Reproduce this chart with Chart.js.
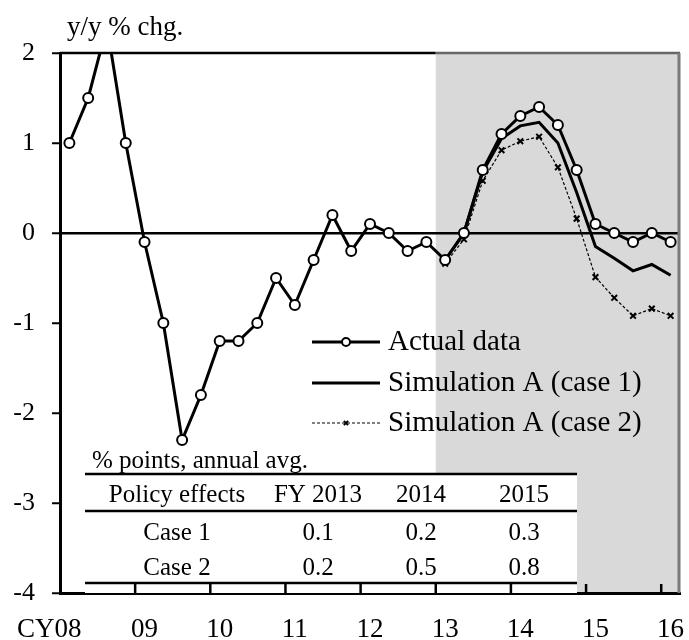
<!DOCTYPE html>
<html>
<head>
<meta charset="utf-8">
<script src="https://cdn.jsdelivr.net/npm/chart.js@4.4.1/dist/chart.umd.min.js"></script>
<style>
  html, body { margin: 0; padding: 0; background: #fff; }
  #wrap { position: relative; width: 689px; height: 640px; }
</style>
</head>
<body>
<div id="wrap"><canvas id="cpiChart" width="689" height="640"></canvas></div>
<script>
// quarterly categories, CY2008 Q1 .. CY2016 Q1
const quarters = [
  '2008Q1', '2008Q2', '2008Q3', '2008Q4', '2009Q1', '2009Q2', '2009Q3', '2009Q4',
  '2010Q1', '2010Q2', '2010Q3', '2010Q4', '2011Q1', '2011Q2', '2011Q3', '2011Q4',
  '2012Q1', '2012Q2', '2012Q3', '2012Q4', '2013Q1', '2013Q2', '2013Q3', '2013Q4',
  '2014Q1', '2014Q2', '2014Q3', '2014Q4', '2015Q1', '2015Q2', '2015Q3', '2015Q4',
  '2016Q1'
];
const yearLabels = ['CY08', '09', '10', '11', '12', '13', '14', '15', '16'];

const actualData = [1.0, 1.5, 2.3, 1.0, -0.1, -1.0, -2.3, -1.8, -1.2, -1.2, -1.0, -0.5, -0.8,
  -0.3, 0.2, -0.2, 0.1, 0.0, -0.2, -0.1, -0.3, 0.0, 0.7, 1.1, 1.3, 1.4, 1.2, 0.7, 0.1, 0.0,
  -0.1, 0.0, -0.1];
const simCase1 = [null, null, null, null, null, null, null, null, null, null, null, null, null,
  null, null, null, null, null, null, null, -0.3, 0.0, 0.68, 1.05, 1.19, 1.23, 1.0, 0.45,
  -0.15, -0.28, -0.42, -0.35, -0.47];
const simCase2 = [null, null, null, null, null, null, null, null, null, null, null, null, null,
  null, null, null, null, null, null, null, -0.34, -0.07, 0.58, 0.92, 1.02, 1.07, 0.73, 0.16,
  -0.49, -0.72, -0.92, -0.84, -0.92];

const shadeFrom = '2013Q1';

// inset table
const tableNote = '% points, annual avg.';
const tableHeader = ['Policy effects', 'FY 2013', '2014', '2015'];
const tableRows = ['Case 1', 'Case 2'];
const case1Effects = [0.1, 0.2, 0.3];
const case2Effects = [0.2, 0.5, 0.8];

const FONT = "'Liberation Serif', 'Times New Roman', serif";

function boundaryPx(xs, idx) {
  return (xs.getPixelForValue(idx - 1) + xs.getPixelForValue(idx)) / 2;
}

const shadePlugin = {
  id: 'shade',
  beforeDraw(chart) {
    const { ctx, chartArea: a, scales: { x } } = chart;
    const left = boundaryPx(x, quarters.indexOf(shadeFrom));
    ctx.save();
    ctx.fillStyle = '#d9d9d9';
    ctx.fillRect(left, a.top, a.right - left, a.bottom - a.top);
    ctx.restore();
  }
};

const overlayPlugin = {
  id: 'overlay',
  afterDraw(chart) {
    const { ctx, chartArea: a, scales: { x } } = chart;
    const shadeLeft = boundaryPx(x, quarters.indexOf(shadeFrom));
    ctx.save();

    // frame: top and right
    ctx.lineWidth = 2.5;
    ctx.strokeStyle = '#000';
    ctx.beginPath(); ctx.moveTo(a.left, a.top); ctx.lineTo(shadeLeft, a.top); ctx.stroke();
    ctx.strokeStyle = '#666';
    ctx.beginPath(); ctx.moveTo(shadeLeft, a.top); ctx.lineTo(a.right, a.top); ctx.stroke();
    ctx.strokeStyle = '#7a7a7a';
    ctx.lineWidth = 3;
    ctx.beginPath(); ctx.moveTo(a.right - 1, a.top); ctx.lineTo(a.right - 1, a.bottom); ctx.stroke();

    // title
    ctx.fillStyle = '#000';
    ctx.font = '27px ' + FONT;
    ctx.textBaseline = 'middle';
    ctx.textAlign = 'left';
    ctx.fillText('y/y % chg.', 67, 28);

    // table
    ctx.fillStyle = '#fff';
    ctx.fillRect(85, 474, 492, a.bottom - 474);
    ctx.fillStyle = '#000';
    ctx.font = '25px ' + FONT;
    ctx.textAlign = 'left';
    ctx.fillText(tableNote, 92, 461);
    ctx.lineWidth = 2.5;
    ctx.strokeStyle = '#000';
    [474, 511, 583].forEach(yy => {
      ctx.beginPath(); ctx.moveTo(85, yy); ctx.lineTo(577, yy); ctx.stroke();
    });
    const colX = [177, 318, 421, 524];
    ctx.textAlign = 'center';
    tableHeader.forEach((t, i) => ctx.fillText(t, colX[i], 495));
    const rowsVals = [case1Effects, case2Effects];
    const rowY = [533, 568];
    tableRows.forEach((r, j) => {
      ctx.fillText(r, colX[0], rowY[j]);
      rowsVals[j].forEach((v, i) => ctx.fillText(v.toFixed(1), colX[i + 1], rowY[j]));
    });

    // inward x ticks at year boundaries
    ctx.lineWidth = 2.5;
    ctx.strokeStyle = '#000';
    for (let i = 4; i < quarters.length; i += 4) {
      const px = boundaryPx(x, i);
      ctx.beginPath(); ctx.moveTo(px, a.bottom); ctx.lineTo(px, a.bottom - 9); ctx.stroke();
    }

    // legend
    const ds = chart.data.datasets;
    const legY = [342, 383, 423];
    ds.forEach((d, i) => {
      ctx.save();
      ctx.strokeStyle = d.borderColor;
      ctx.lineWidth = d.borderWidth;
      ctx.setLineDash(d.borderDash || []);
      ctx.beginPath(); ctx.moveTo(312, legY[i]); ctx.lineTo(380, legY[i]); ctx.stroke();
      ctx.restore();
      if (d.pointRadius > 0) {
        ctx.save();
        ctx.fillStyle = d.pointBackgroundColor || '#000';
        ctx.strokeStyle = d.pointBorderColor;
        ctx.lineWidth = d.pointBorderWidth;
        Chart.helpers.drawPoint(ctx, {
          pointStyle: d.pointStyle, radius: d.pointRadius - 1, borderWidth: d.pointBorderWidth
        }, 346, legY[i]);
        ctx.restore();
      }
      ctx.fillStyle = '#000';
      ctx.font = '29px ' + FONT;
      ctx.textAlign = 'left';
      ctx.textBaseline = 'middle';
      ctx.fillText(d.label, 388, legY[i]);
    });
    ctx.restore();
  }
};

const ctx = document.getElementById('cpiChart').getContext('2d');
new Chart(ctx, {
  type: 'line',
  data: {
    labels: quarters,
    datasets: [
      {
        label: 'Actual data',
        data: actualData,
        borderColor: '#000',
        borderWidth: 3,
        pointStyle: 'circle',
        pointRadius: 5,
        pointBackgroundColor: '#fff',
        pointBorderColor: '#000',
        pointBorderWidth: 2,
        tension: 0
      },
      {
        label: 'Simulation A (case 1)',
        data: simCase1,
        borderColor: '#000',
        borderWidth: 3,
        pointRadius: 0,
        tension: 0
      },
      {
        label: 'Simulation A (case 2)',
        data: simCase2,
        borderColor: '#000',
        borderWidth: 1.2,
        borderDash: [3, 2],
        pointStyle: 'crossRot',
        pointRadius: 4,
        pointBorderWidth: 2,
        pointBorderColor: '#000',
        pointBackgroundColor: '#000',
        tension: 0
      }
    ]
  },
  options: {
    responsive: false,
    animation: false,
    events: [],
    layout: { padding: { top: 53, right: 9, left: 0, bottom: 0 } },
    plugins: { legend: { display: false }, tooltip: { enabled: false } },
    scales: {
      x: {
        offset: true,
        grid: { offset: true, drawOnChartArea: false, drawTicks: false },
        border: { color: '#000', width: 3 },
        ticks: {
          autoSkip: false,
          maxRotation: 0,
          padding: 21,
          color: '#000',
          font: { family: FONT, size: 27 },
          callback: (v, i) => (i % 4 === 0 ? (i === 0 ? yearLabels[0] + '\u00a0\u00a0\u00a0\u00a0\u00a0\u00a0' : yearLabels[i / 4]) : '')
        },
        afterFit: s => { s.height = 47; s.paddingLeft = 0; s.paddingRight = 0; }
      },
      y: {
        min: -4,
        max: 2,
        ticks: { stepSize: 1, padding: 17, color: '#000', font: { family: FONT, size: 26 } },
        grid: {
          color: c => (c.tick && c.tick.value === 0 ? '#000' : 'rgba(0,0,0,0)'),
          lineWidth: 2.5,
          tickColor: '#000',
          tickLength: 8,
          tickWidth: 2
        },
        border: { color: '#000', width: 3 },
        afterFit: s => { s.width = 60; s.paddingTop = 0; s.paddingBottom = 0; }
      }
    }
  },
  plugins: [shadePlugin, overlayPlugin]
});
</script>
</body>
</html>
